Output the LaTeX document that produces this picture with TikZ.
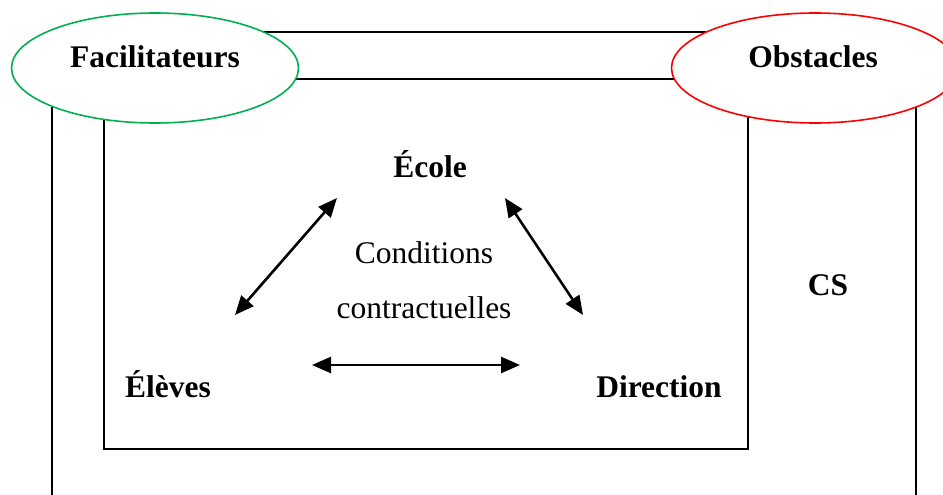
\documentclass[tikz,border=0pt]{standalone}
\usepackage{fontspec}
\setmainfont{Liberation Serif}
\usetikzlibrary{shapes.geometric,arrows.meta}
\definecolor{wgreen}{RGB}{0,176,80}
\definecolor{wred}{RGB}{255,0,0}
\begin{document}
\begin{tikzpicture}[x=1pt,y=-1pt,
  frame/.style={draw=black,line width=2.2pt},
  oval/.style={ellipse,draw,fill=white,line width=1.6pt,minimum width=287pt,minimum height=110pt,inner sep=0pt},
  lbl/.style={font=\fontsize{31.5}{36}\selectfont\bfseries,anchor=base,inner sep=0pt},
  txt/.style={font=\fontsize{31.5}{36}\selectfont,anchor=base,inner sep=0pt},
  link/.style={line width=2.6pt,{Triangle[length=19pt,width=16pt]}-{Triangle[length=19pt,width=16pt]}}]
\useasboundingbox (0,0) rectangle (943,495);
% outer frame (open at bottom)
\coordinate (obl) at (52,497);
\coordinate (otl) at (52,32);
\coordinate (otr) at (916,32);
\coordinate (obr) at (916,497);
\draw[frame] (obl) -- (otl) -- (otr) -- (obr);
% inner frame
\coordinate (itl) at (104,79);
\coordinate (ibr) at (748,449);
\draw[frame] (itl) rectangle (ibr);
% ellipses
\node[oval,draw=wgreen] (fac) at (155,68) {};
\node[oval,draw=wred] (obs) at (815,68) {};
\node[lbl] (factxt) at (155,68) {Facilitateurs};
\node[lbl] (obstxt) at (813,68) {Obstacles};
% labels
\node[lbl] (ecole) at (430,177) {École};
\node[lbl] (eleves) at (168,397) {Élèves};
\node[lbl] (direction) at (659,397) {Direction};
\node[lbl] (cs) at (828,295) {CS};
\node[txt] (cond1) at (424,263) {Conditions};
\node[txt] (cond2) at (424,318) {contractuelles};
% arrows
\coordinate (a1) at (235,315);
\coordinate (a2) at (337,198);
\coordinate (b1) at (505,198);
\coordinate (b2) at (583,315);
\coordinate (c1) at (312,365);
\coordinate (c2) at (520,365);
\draw[link] (a1) -- (a2);
\draw[link] (b1) -- (b2);
\draw[link] (c1) -- (c2);
\end{tikzpicture}
\end{document}
